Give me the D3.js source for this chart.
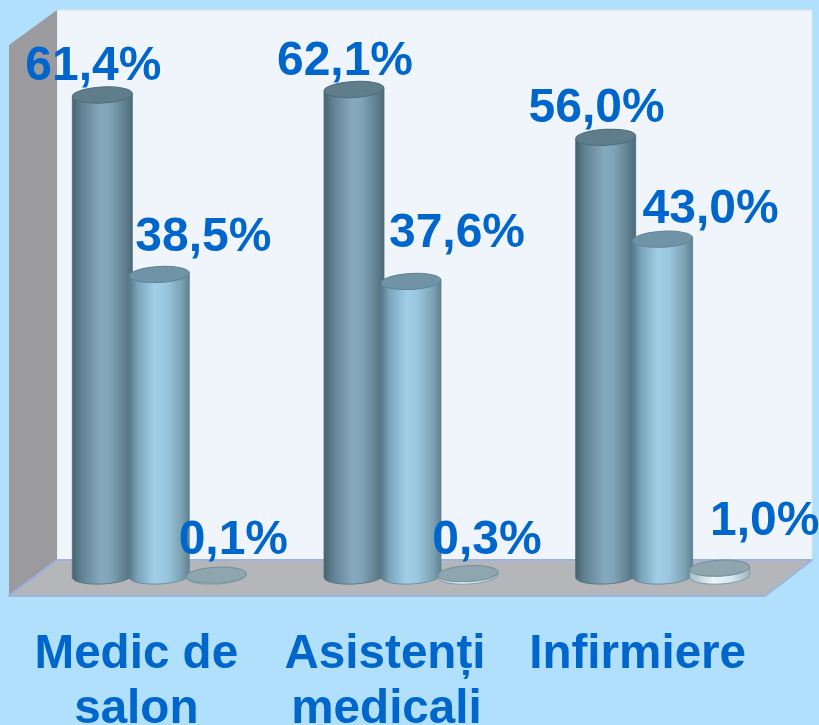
<!DOCTYPE html>
<html><head><meta charset="utf-8">
<script src="https://cdn.jsdelivr.net/npm/d3@7/dist/d3.min.js"></script>
<style>html,body{margin:0;padding:0;background:#b0e0fb}svg{display:block}</style>
</head><body><svg id="c" width="819" height="725"></svg>
<script>
const categories = ["Medic de salon", "Asistenți medicali", "Infirmiere"];
const categoryLines = [["Medic de", "salon"], ["Asistenți", "medicali"], ["Infirmiere"]];
const seriesKeys = ["s1", "s2", "s3"];
const s1 = [61.4, 62.1, 56.0];
const s2 = [38.5, 37.6, 43.0];
const s3 = [0.1, 0.3, 1.0];
const allSeries = [s1, s2, s3];
const valueLabels = [
  ["61,4%", "62,1%", "56,0%"],
  ["38,5%", "37,6%", "43,0%"],
  ["0,1%", "0,3%", "1,0%"]
];

// layout only
const W = 819, H = 725, FONT = "'Liberation Sans', Arial, sans-serif", BLUE = "#0066cc";
const labelDx = [[-9,-9,-9],[44,46,48],[17,19,45]];
const labelDy = [[-15,-15,-15],[-23,-34,-16],[-21,-20,-33]];
const catDx = [[-23,-23],[-26,-24.5],[-25]];
const baseY = 576, rx = 30, ry = 8, tilt = 1.6;

const xGroup = d3.scaleBand().domain(categories).range([33.5, 788.5]);
const xSeries = d3.scaleBand().domain(seriesKeys).range([-85.5, 85.5]);
const y = d3.scaleLinear().domain([0, 61.4]).range([baseY, 95]);

const svg = d3.select("#c");
const defs = svg.append("defs");
function grad(id, stops) {
  const g = defs.append("linearGradient").attr("id", id);
  g.selectAll("stop").data(stops).join("stop")
    .attr("offset", d => d[0]).attr("stop-color", d => d[1]);
}
grad("g0", [[0,"#48626e"],[0.14,"#5f8091"],[0.48,"#86aabd"],[0.62,"#81a5b8"],[0.88,"#5f7f8e"],[1,"#4d6a78"]]);
grad("g1", [[0,"#55798b"],[0.14,"#7aa5bb"],[0.42,"#a1cee6"],[0.62,"#9ac6dd"],[0.88,"#7a9fb1"],[1,"#5f8091"]]);
grad("g2", [[0,"#a5bdc6"],[0.4,"#eef6fa"],[0.7,"#d7e8ef"],[1,"#9db5bf"]]);
defs.append("filter").attr("id","soft").append("feGaussianBlur").attr("stdDeviation",0.55);

const root = svg.append("g").attr("filter","url(#soft)");
root.append("rect").attr("width",W).attr("height",H).attr("fill","#b0e0fb");
root.append("rect").attr("x",57).attr("y",10).attr("width",755).attr("height",550).attr("fill","#eff5fb").attr("stroke","#dbe6ee").attr("stroke-width",1);
root.append("path").attr("d","M9,45L57,10L57,560L9,596Z").attr("fill","#9b9b9f");
root.append("path").attr("d","M57,560L812,560L765,596L9,596Z").attr("fill","#b4b6ba").attr("stroke","#9db2df").attr("stroke-width",2).attr("stroke-linejoin","round");

const capFill = ["#5f7d8a","#6f94a6","#8fa6ae"];
const edge = ["#4e6c7a","#5f8496","#6f8f9b"];

allSeries.forEach((vals, si) => {
  const g = root.append("g");
  const cyl = g.selectAll("g").data(vals.map((v,i)=>({v,i}))).join("g")
    .attr("transform", d => `translate(${xGroup(categories[d.i]) + xGroup.bandwidth()/2 + xSeries(seriesKeys[si]) + xSeries.bandwidth()/2},0)`);
  cyl.append("path")
    .attr("d", d => `M${-rx},${y(d.v)+tilt} L${-rx},${y(0)+tilt} A${rx},${ry} -3 0 0 ${rx},${y(0)-tilt} L${rx},${y(d.v)-tilt} Z`)
    .attr("fill", `url(#g${si})`).attr("stroke", edge[si]).attr("stroke-width",0.8);
  cyl.append("ellipse").attr("cx",0).attr("cy",d=>y(d.v)).attr("rx",rx).attr("ry",ry)
    .attr("transform", d => `rotate(-3 0 ${y(d.v)})`)
    .attr("fill", capFill[si]).attr("stroke", edge[si]).attr("stroke-width",1);
});

const textG = root.append("g").attr("font-family",FONT).attr("font-weight","bold").attr("fill",BLUE).attr("text-anchor","middle");
allSeries.forEach((vals, si) => {
  textG.append("g").selectAll("text").data(vals.map((v,i)=>({v,i}))).join("text")
    .attr("font-size",48)
    .attr("x", d => xGroup(categories[d.i]) + xGroup.bandwidth()/2 + xSeries(seriesKeys[si]) + xSeries.bandwidth()/2 + labelDx[si][d.i])
    .attr("y", d => y(d.v) + labelDy[si][d.i])
    .text(d => valueLabels[si][d.i]);
});
categories.forEach((c,i) => {
  categoryLines[i].forEach((line,j) => {
    textG.append("text").attr("font-size",47.6)
      .attr("x", xGroup(c) + xGroup.bandwidth()/2 + catDx[i][j])
      .attr("y", 667.5 + j*55.5).text(line);
  });
});
</script></body></html>
